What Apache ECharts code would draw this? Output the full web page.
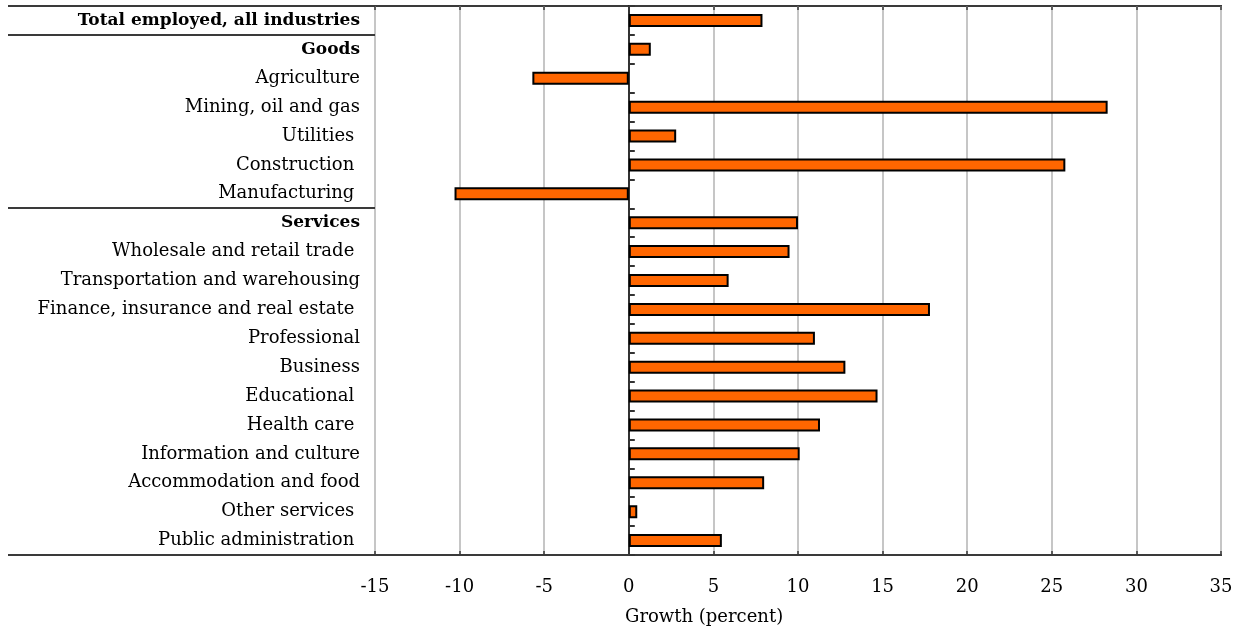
<!DOCTYPE html>
<html>
<head>
<meta charset="utf-8">
<script src="https://cdn.jsdelivr.net/npm/echarts@6/dist/echarts.min.js"></script>
<style>
  html, body { margin: 0; padding: 0; background: #fff; }
  #chart { width: 1239px; height: 629px; }
</style>
</head>
<body>
<div id="chart"></div>
<script>
// Industry rows, top to bottom (trailing spaces kept as in the source labels)
const categories = [
  'Total employed, all industries',
  'Goods',
  'Agriculture',
  'Mining, oil and gas',
  'Utilities ',
  'Construction ',
  'Manufacturing ',
  'Services',
  'Wholesale and retail trade ',
  'Transportation and warehousing',
  'Finance, insurance and real estate ',
  'Professional',
  'Business',
  'Educational ',
  'Health care ',
  'Information and culture',
  'Accommodation and food',
  'Other services ',
  'Public administration '
];

// Employment growth, percent
const growth = [7.9, 1.3, -5.7, 28.3, 2.8, 25.8, -10.3, 10.0, 9.5, 5.9, 17.8, 11.0, 12.8, 14.7, 11.3, 10.1, 8.0, 0.5, 5.5];

// Heading rows shown in bold
const headingRows = ['Total employed, all industries', 'Goods', 'Services'];

// Rows followed by a group rule in the label column
const groupEnds = [0, 6];

// Value axis range and step
const xMin = -15;
const xMax = 35;
const xStep = 5;

const axisTitle = 'Growth (percent)';

const FONT = 'DejaVu Serif';
const chart = echarts.init(document.getElementById('chart'), null, { renderer: 'canvas' });

const GRID = { left: 375, right: 18, top: 6, bottom: 74 };

chart.setOption({
  animation: false,
  backgroundColor: '#ffffff',
  textStyle: { fontFamily: FONT, color: '#000' },
  grid: {
    left: GRID.left, right: GRID.right, top: GRID.top, bottom: GRID.bottom,
    show: true, borderColor: '#3a3a3a', borderWidth: 2, backgroundColor: 'transparent'
  },
  xAxis: [
    {
      type: 'value', min: xMin, max: xMax, interval: xStep, position: 'bottom',
      axisLine: { show: true, onZero: false, lineStyle: { color: '#3a3a3a', width: 2 } },
      axisTick: { show: true, inside: true, length: 4, lineStyle: { color: '#3a3a3a', width: 1.5 } },
      splitLine: { show: true, lineStyle: { color: '#c6c6c6', width: 2 } },
      axisLabel: { margin: 23, fontFamily: FONT, fontSize: 18, color: '#000' }
    },
    {
      type: 'value', min: xMin, max: xMax, interval: xStep, position: 'top',
      axisLine: { show: false, onZero: false },
      axisTick: { show: true, inside: true, length: 4, lineStyle: { color: '#3a3a3a', width: 1.5 } },
      splitLine: { show: false },
      axisLabel: { show: false }
    }
  ],
  yAxis: [
    {
      type: 'category', data: categories, inverse: true, position: 'left',
      axisLine: { show: false, onZero: false },
      axisTick: { show: false },
      splitLine: { show: false },
      axisLabel: {
        margin: 15, fontFamily: FONT, fontSize: 18, color: '#000',
        formatter: v => headingRows.includes(v) ? '{h|' + v + '}' : v,
        rich: { h: { fontFamily: FONT, fontSize: 17, fontWeight: 'bold', color: '#000' } }
      }
    },
    {
      // zero line with row ticks
      type: 'category', data: categories, inverse: true, position: 'left',
      axisLine: { show: true, onZero: true, lineStyle: { color: '#000', width: 1.5 } },
      axisTick: { show: true, inside: true, length: 6, lineStyle: { color: '#333', width: 2 } },
      splitLine: { show: false },
      axisLabel: { show: false }
    }
  ],
  series: [{
    type: 'bar',
    xAxisIndex: 0,
    yAxisIndex: 0,
    data: growth,
    barWidth: 13,
    itemStyle: { color: '#ff6600', borderColor: '#000', borderWidth: 2 }
  }]
});

// Group rules in the label column, placed on the row boundaries
function drawRules() {
  const yOf = i => chart.convertToPixel({ yAxisIndex: 0 }, categories[i]);
  const band = yOf(1) - yOf(0);
  const x0 = 8;
  const x1 = GRID.left;
  const ys = [yOf(0) - band / 2]
    .concat(groupEnds.map(i => yOf(i) + band / 2))
    .concat([yOf(categories.length - 1) + band / 2]);
  const lines = ys.map(y => ({
    type: 'line',
    shape: { x1: x0, y1: Math.round(y), x2: x1, y2: Math.round(y) },
    style: { stroke: '#3a3a3a', lineWidth: 2 },
    silent: true
  }));
  lines.push({
    type: 'text', left: 625, top: 608,
    style: { text: axisTitle, font: '18px "' + FONT + '"', fill: '#000' }
  });
  chart.setOption({ graphic: lines });
}
drawRules();
</script>
</body>
</html>
